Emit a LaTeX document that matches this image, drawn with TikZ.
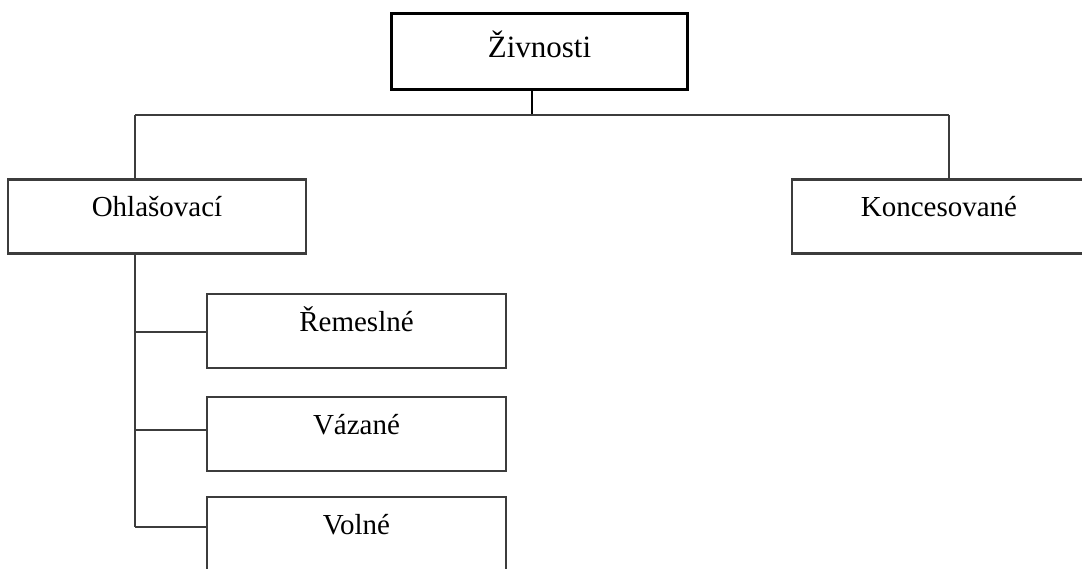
\documentclass[tikz,border=0pt]{standalone}
\usepackage{fontspec}
\setmainfont{Liberation Serif}
\usetikzlibrary{positioning}
\definecolor{zvLine}{HTML}{3C3C3C}
\definecolor{zvTop}{HTML}{000000}
\tikzset{
  zvbox/.style={
    draw=zvLine, line width=1.2pt, minimum width=149pt, minimum height=37pt,
    inner sep=0pt, font=\fontsize{14.5}{16}\selectfont,
    text height=10pt, text depth=10pt
  },
  topbox/.style={zvbox, draw=zvTop, line width=1.6pt, minimum width=148pt,
    minimum height=38pt, font=\fontsize{15.5}{17}\selectfont,
    text height=8.5pt, text depth=3pt},
  conn/.style={draw=zvLine, line width=1.2pt},
  stemline/.style={draw=zvTop, line width=1.3pt}
}
\begin{document}
\begin{tikzpicture}[x=0.5pt, y=-0.5pt]
  \useasboundingbox (0,0) rectangle (1082,568);
  \clip (0,0) rectangle (1082,568);
  % boxes
  \node[topbox] (zivnosti) at (539.5,51.5) {Živnosti};
  \node[zvbox] (ohlas) at (157,216.5) {Ohlašovací};
  \node[zvbox, minimum width=147pt] (konces) at (939,216.5) {Koncesované};
  \node[zvbox, minimum width=149.5pt] (remeslne) at (356.5,331) {Řemeslné};
  \node[zvbox, minimum width=149.5pt] (vazane) at (356.5,434) {Vázané};
  \node[zvbox, minimum width=149.5pt] (volne) at (356.5,534) {Volné};
  % connectors
  \coordinate (stem) at (532,115);
  \coordinate (lcorner) at (135,115);
  \coordinate (rcorner) at (949,115);
  \coordinate (b1) at (135,332);
  \coordinate (b2) at (135,430);
  \coordinate (b3) at (135,527);
  \draw[stemline] (zivnosti.south -| stem) -- (stem);
  \draw[conn] (lcorner) -- (rcorner);
  \draw[conn] (lcorner) -- (lcorner |- ohlas.north);
  \draw[conn] (rcorner) -- (rcorner |- konces.north);
  \draw[conn] (lcorner |- ohlas.south) -- (b3);
  \draw[conn] (b1) -- (b1 -| remeslne.west);
  \draw[conn] (b2) -- (b2 -| vazane.west);
  \draw[conn] (b3) -- (b3 -| volne.west);
\end{tikzpicture}
\end{document}
